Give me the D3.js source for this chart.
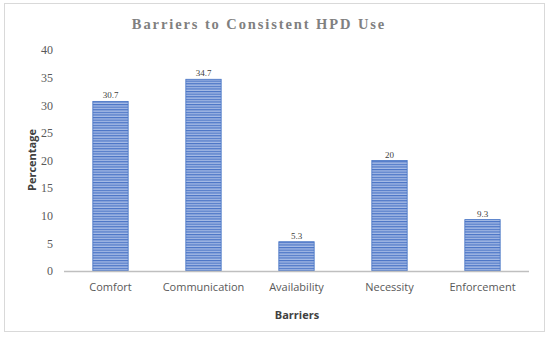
<!DOCTYPE html>
<html><head><meta charset="utf-8">
<script src="https://cdn.jsdelivr.net/npm/d3@7"></script>
<style>body{margin:0;background:#fff}</style>
</head><body>
<script>
const categories = ["Comfort","Communication","Availability","Necessity","Enforcement"];
const values = [30.7,34.7,5.3,20,9.3];
const valueLabels = ["30.7","34.7","5.3","20","9.3"];
const yTicks = [0,5,10,15,20,25,30,35,40];

const W=550,H=338;
const svg=d3.select("body").append("svg").attr("width",W).attr("height",H);
svg.append("rect").attr("x",4.5).attr("y",3.5).attr("width",540).attr("height",328)
  .attr("fill","#fff").attr("stroke","#d9d9d9");

const defs=svg.append("defs");
const pat=defs.append("pattern").attr("id","stripe").attr("patternUnits","userSpaceOnUse")
  .attr("width",4).attr("height",2.6);
pat.append("rect").attr("width",4).attr("height",2.6).attr("fill","#a7bce6");
pat.append("rect").attr("width",4).attr("height",1.2).attr("fill","#4a74c6");

const x=d3.scaleBand().domain(categories).range([64,529]).paddingInner(0.62).paddingOuter(0.31);
const y=d3.scaleLinear().domain([0,40]).range([271,50]);

svg.append("text").attr("x",259).attr("y",29).attr("text-anchor","middle")
  .style("font-family","'Liberation Serif', serif").attr("font-size",14.5).attr("font-weight","bold")
  .attr("letter-spacing",1.9).attr("fill","#808080").text("Barriers to Consistent HPD Use");

const ya=svg.append("g").attr("transform","translate(53,0)")
  .call(d3.axisLeft(y).tickValues(yTicks).tickSize(0).tickPadding(0));
ya.select(".domain").remove();
ya.attr("font-family",null);
ya.selectAll("text").style("font-family","'Liberation Serif', serif").attr("font-size",12).attr("fill","#595959");

svg.selectAll(".bar").data(values).enter().append("rect")
  .attr("x",(d,i)=>x(categories[i])).attr("y",d=>y(d))
  .attr("width",x.bandwidth()).attr("height",d=>y(0)-y(d))
  .attr("fill","url(#stripe)").attr("stroke","#4472c4").attr("stroke-width",0.8);

svg.append("line").attr("x1",64).attr("x2",529).attr("y1",271.5).attr("y2",271.5)
  .attr("stroke","#bfbfbf").attr("stroke-width",1.5);

svg.selectAll(".vl").data(values).enter().append("text")
  .attr("x",(d,i)=>x(categories[i])+x.bandwidth()/2).attr("y",d=>y(d)-3)
  .attr("text-anchor","middle").style("font-family","'Liberation Serif', serif")
  .attr("font-size",9).attr("fill","#404040").text((d,i)=>valueLabels[i]);

const xa=svg.append("g").attr("transform","translate(0,271)")
  .call(d3.axisBottom(x).tickSize(0).tickPadding(12));
xa.select(".domain").remove();
xa.selectAll("text").style("font-family","'Open Sans', sans-serif").attr("font-size",11).attr("fill","#595959");

svg.append("text").attr("x",297).attr("y",319).attr("text-anchor","middle")
  .style("font-family","'Open Sans', sans-serif").attr("font-size",11).attr("font-weight","bold")
  .attr("fill","#404040").text("Barriers");
svg.append("text").attr("transform","translate(36,160) rotate(-90)").attr("text-anchor","middle")
  .style("font-family","'Open Sans', sans-serif").attr("font-size",11).attr("font-weight","bold")
  .attr("fill","#404040").text("Percentage");
</script>
</body></html>
